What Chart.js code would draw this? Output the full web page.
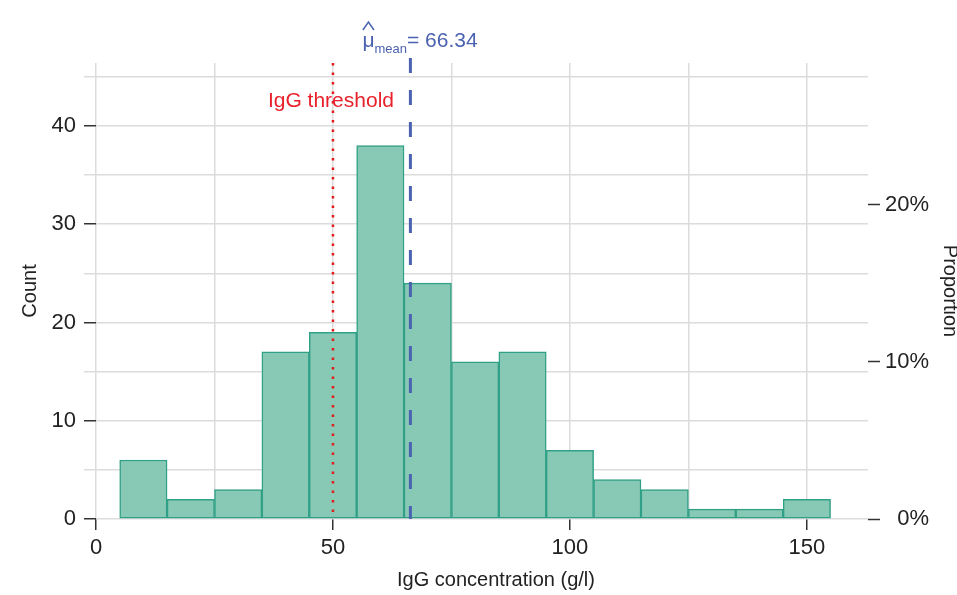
<!DOCTYPE html>
<html lang="en">
<head>
    <meta charset="UTF-8">
    <title>IgG histogram</title>
    <script src="https://cdn.jsdelivr.net/npm/chart.js"></script>
    <style>
        body {
            margin: 0;
            padding: 0;
            background-color: #fff;
        }
        .wrap {
            width: 957px;
            height: 595px;
            position: relative;
        }
    </style>
</head>
<body>
<div class="wrap">
    <canvas id="myChart"></canvas>
</div>

<script>
    // histogram bins (width 10), centre of each bin
    var binCenters = [10, 20, 30, 40, 50, 60, 70, 80, 90, 100, 110, 120, 130, 140, 150];
    var counts = [6, 2, 3, 17, 19, 38, 24, 16, 17, 7, 4, 3, 1, 1, 2];
    var countTicks = [0, 10, 20, 30, 40];
    var xTicks = [0, 50, 100, 150];
    var threshold = 50;
    var meanValue = 66.34;

    var xMax = 162.9;
    var yMax = 46.4;
    var total = counts.reduce((a, b) => a + b, 0);

    var gridColor = '#dcdcdc';
    var darkTick = '#333';
    var fontName = "'Liberation Sans', Arial, sans-serif";

    // reference lines, their labels and the x title
    var refLines = {
        id: 'refLines',
        afterDatasetsDraw: function(chart) {
            var ctx = chart.ctx;
            var area = chart.chartArea;
            var x = chart.scales.x;

            // threshold (red dotted)
            var tx = x.getPixelForValue(threshold);
            ctx.save();
            ctx.strokeStyle = '#e41a1c';
            ctx.lineWidth = 2.5;
            ctx.setLineDash([2.5, 7]);
            ctx.beginPath();
            ctx.moveTo(tx, area.top);
            ctx.lineTo(tx, area.bottom);
            ctx.stroke();
            ctx.restore();

            ctx.save();
            ctx.fillStyle = '#e8212b';
            ctx.font = '21px ' + fontName;
            ctx.textAlign = 'center';
            ctx.textBaseline = 'middle';
            ctx.fillText('IgG threshold', tx - 2, area.top + 38);
            ctx.restore();

            // mean (blue dashed)
            var mx = x.getPixelForValue(meanValue);
            ctx.save();
            ctx.strokeStyle = '#4b62b0';
            ctx.lineWidth = 3;
            ctx.setLineDash([15, 17]);
            ctx.beginPath();
            ctx.moveTo(mx, area.top - 5);
            ctx.lineTo(mx, area.bottom);
            ctx.stroke();
            ctx.restore();

            // mu-hat label
            ctx.save();
            ctx.fillStyle = '#4b62b0';
            ctx.strokeStyle = '#4b62b0';
            ctx.textBaseline = 'alphabetic';
            ctx.textAlign = 'left';
            var lx = mx - 48;
            var base = 47;
            ctx.font = '21px ' + fontName;
            ctx.fillText('\u03bc', lx, base);
            var muW = ctx.measureText('\u03bc').width;
            ctx.lineWidth = 1.5;
            ctx.beginPath();
            ctx.moveTo(lx + 0.5, 30);
            ctx.lineTo(lx + muW / 2, 22);
            ctx.lineTo(lx + muW - 0.5, 30);
            ctx.stroke();
            ctx.font = '13px ' + fontName;
            ctx.fillText('mean', lx + muW, base + 6);
            var subW = ctx.measureText('mean').width;
            ctx.font = '21px ' + fontName;
            ctx.fillText('= ' + meanValue.toFixed(2), lx + muW + subW, base);
            ctx.restore();

            // x axis title, a bit right of the plot centre as in the original
            ctx.save();
            ctx.fillStyle = '#222';
            ctx.font = '20px ' + fontName;
            ctx.textAlign = 'center';
            ctx.textBaseline = 'middle';
            ctx.fillText('IgG concentration (g/l)', (area.left + area.right) / 2 + 14, 580);
            ctx.restore();
        }
    };

    window.onload = function() {
        renderChart();
    };

    function renderChart() {
        Chart.defaults.font.family = fontName;
        Chart.defaults.color = '#222';

        var points = binCenters.map((c, i) => ({x: c, y: counts[i]}));
        var ctx = document.getElementById('myChart').getContext('2d');

        var myChart = new Chart(ctx, {
            type: 'bar',
            data: {
                datasets: [{
                    label: 'Count',
                    data: points,
                    backgroundColor: '#88c9b5',
                    borderColor: '#30a086',
                    borderWidth: 1.5,
                    borderSkipped: false,
                    barPercentage: 1,
                    categoryPercentage: 1,
                    yAxisID: 'y'
                }]
            },
            options: {
                responsive: true,
                maintainAspectRatio: false,
                animation: false,
                layout: { padding: { top: 63, left: 0, right: 28, bottom: 0 } },
                plugins: {
                    legend: { display: false },
                    tooltip: { enabled: false }
                },
                scales: {
                    x: {
                        type: 'linear',
                        min: 0,
                        max: xMax,
                        offset: false,
                        border: { display: false },
                        grid: {
                            offset: false,
                            color: gridColor,
                            lineWidth: 1.5,
                            tickLength: 11,
                            tickWidth: 1.5,
                            tickColor: c => xTicks.includes(c.tick.value) ? darkTick : 'rgba(0,0,0,0)'
                        },
                        ticks: {
                            stepSize: 25,
                            includeBounds: false,
                            maxRotation: 0,
                            autoSkip: false,
                            padding: 5,
                            font: { size: 22 },
                            callback: v => xTicks.includes(v) ? v : ''
                        },
                        afterFit: s => { s.height = 76; }
                    },
                    y: {
                        position: 'left',
                        min: 0,
                        max: yMax,
                        border: { display: false },
                        grid: {
                            color: gridColor,
                            lineWidth: 1.5,
                            tickLength: 12,
                            tickWidth: 1.5,
                            tickColor: c => countTicks.includes(c.tick.value) ? darkTick : gridColor
                        },
                        ticks: {
                            stepSize: 5,
                            includeBounds: false,
                            padding: 8,
                            font: { size: 22 },
                            callback: v => countTicks.includes(v) ? v : ''
                        },
                        title: {
                            display: true,
                            text: 'Count',
                            font: { size: 20 },
                            padding: { top: 18, bottom: 0 }
                        },
                        afterFit: s => { s.width = 96; }
                    },
                    y2: {
                        position: 'right',
                        min: 0,
                        max: yMax / total,
                        border: { display: false },
                        grid: {
                            drawOnChartArea: false,
                            tickLength: 12,
                            tickWidth: 1.5,
                            tickColor: darkTick
                        },
                        ticks: {
                            stepSize: 0.1,
                            includeBounds: false,
                            padding: 5,
                            crossAlign: 'far',
                            font: { size: 22 },
                            callback: v => Math.round(v * 100) + '%'
                        },
                        title: {
                            display: true,
                            text: 'Proportion',
                            font: { size: 20 },
                            padding: { top: -33, bottom: 0 }
                        },
                        afterFit: s => { s.width = 61; }
                    }
                }
            },
            plugins: [refLines]
        });
    }
</script>
</body>
</html>
